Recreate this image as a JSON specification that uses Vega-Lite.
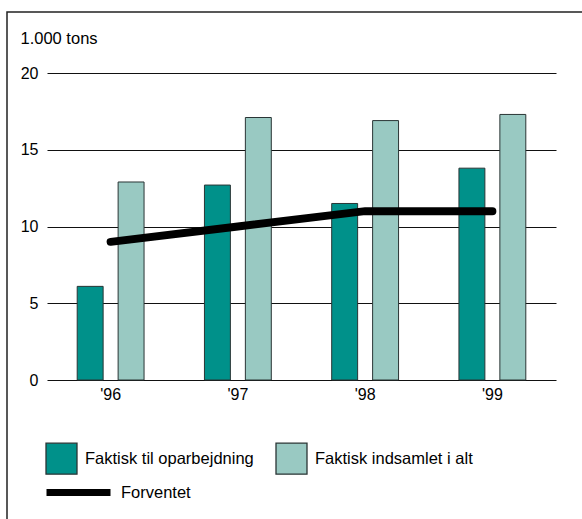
{
  "$schema": "https://vega.github.io/schema/vega-lite/v6.json",
  "autosize": {"type": "none"},
  "padding": {"left": 7, "top": 12, "right": -15, "bottom": -13},
  "width": 590,
  "height": 520,
  "background": "white",
  "config": {
    "font": "Liberation Sans",
    "view": {"stroke": "#222222", "strokeWidth": 1.5},
    "legend": {"labelFont": "Liberation Sans", "labelFontSize": 16.5, "labelColor": "black", "title": null, "padding": 0, "labelLimit": 400}
  },
  "datasets": {
    "bars": [
      {"year": "'96", "series": "Faktisk til oparbejdning", "value": 6.1},
      {"year": "'96", "series": "Faktisk indsamlet i alt", "value": 12.9},
      {"year": "'97", "series": "Faktisk til oparbejdning", "value": 12.7},
      {"year": "'97", "series": "Faktisk indsamlet i alt", "value": 17.1},
      {"year": "'98", "series": "Faktisk til oparbejdning", "value": 11.5},
      {"year": "'98", "series": "Faktisk indsamlet i alt", "value": 16.9},
      {"year": "'99", "series": "Faktisk til oparbejdning", "value": 13.8},
      {"year": "'99", "series": "Faktisk indsamlet i alt", "value": 17.3}
    ],
    "forventet": [
      {"year": "'96", "series": "Forventet", "value": 9},
      {"year": "'97", "series": "Forventet", "value": 10},
      {"year": "'98", "series": "Forventet", "value": 11},
      {"year": "'99", "series": "Forventet", "value": 11}
    ]
  },
  "layer": [
    {
      "data": {"name": "bars"},
      "mark": {"type": "bar", "stroke": "#2a3535", "strokeWidth": 1},
      "encoding": {
        "x": {
          "field": "year", "type": "nominal", "sort": null,
          "scale": {"range": [40, 549], "paddingInner": 0, "paddingOuter": 0},
          "axis": {"orient": "bottom", "offset": -152, "labelPadding": 6, "domain": false, "ticks": false, "grid": false, "labelAngle": 0, "labelFontSize": 16, "labelColor": "black", "labelFont": "Liberation Sans", "title": null}
        },
        "xOffset": {
          "field": "series", "type": "nominal",
          "scale": {"domain": ["Faktisk til oparbejdning", "Faktisk indsamlet i alt"], "paddingInner": 0.366, "paddingOuter": 0.738}
        },
        "y": {
          "field": "value", "type": "quantitative",
          "scale": {"domain": [0, 20], "range": [368, 61], "nice": false},
          "axis": {
            "values": [0, 5, 10, 15, 20], "offset": -40, "labelPadding": 9, "domain": false, "ticks": false,
            "grid": true, "gridColor": "#111111", "gridWidth": 1,
            "labelFontSize": 16, "labelColor": "black", "labelFont": "Liberation Sans",
            "title": "1.000 tons", "titleAngle": 0, "titleAlign": "left", "titleBaseline": "alphabetic",
            "titleX": -27, "titleY": 31, "titleFontWeight": "normal", "titleFontSize": 16.5, "titleColor": "black", "titleFont": "Liberation Sans"
          }
        },
        "fill": {
          "field": "series", "type": "nominal",
          "scale": {"domain": ["Faktisk til oparbejdning", "Faktisk indsamlet i alt"], "range": ["#00918a", "#99c9c2"]},
          "legend": {
            "orient": "none", "legendX": 38, "legendY": 430, "direction": "horizontal",
            "symbolType": "square", "symbolSize": 961, "symbolStrokeColor": "#2a3535", "symbolStrokeWidth": 1.3,
            "labelOffset": 7, "columnPadding": 19
          }
        }
      }
    },
    {
      "data": {"name": "forventet"},
      "mark": {"type": "line", "strokeWidth": 8, "strokeCap": "round"},
      "encoding": {
        "x": {"field": "year", "type": "nominal", "sort": null},
        "y": {"field": "value", "type": "quantitative"},
        "stroke": {
          "field": "series", "type": "nominal",
          "scale": {"domain": ["Forventet"], "range": ["black"]},
          "legend": {
            "orient": "none", "legendX": 36, "legendY": 445,
            "symbolType": "stroke", "symbolSize": 4096, "symbolStrokeWidth": 7, "labelOffset": 7
          }
        }
      }
    }
  ],
  "resolve": {"scale": {"fill": "independent", "stroke": "independent"}}
}
